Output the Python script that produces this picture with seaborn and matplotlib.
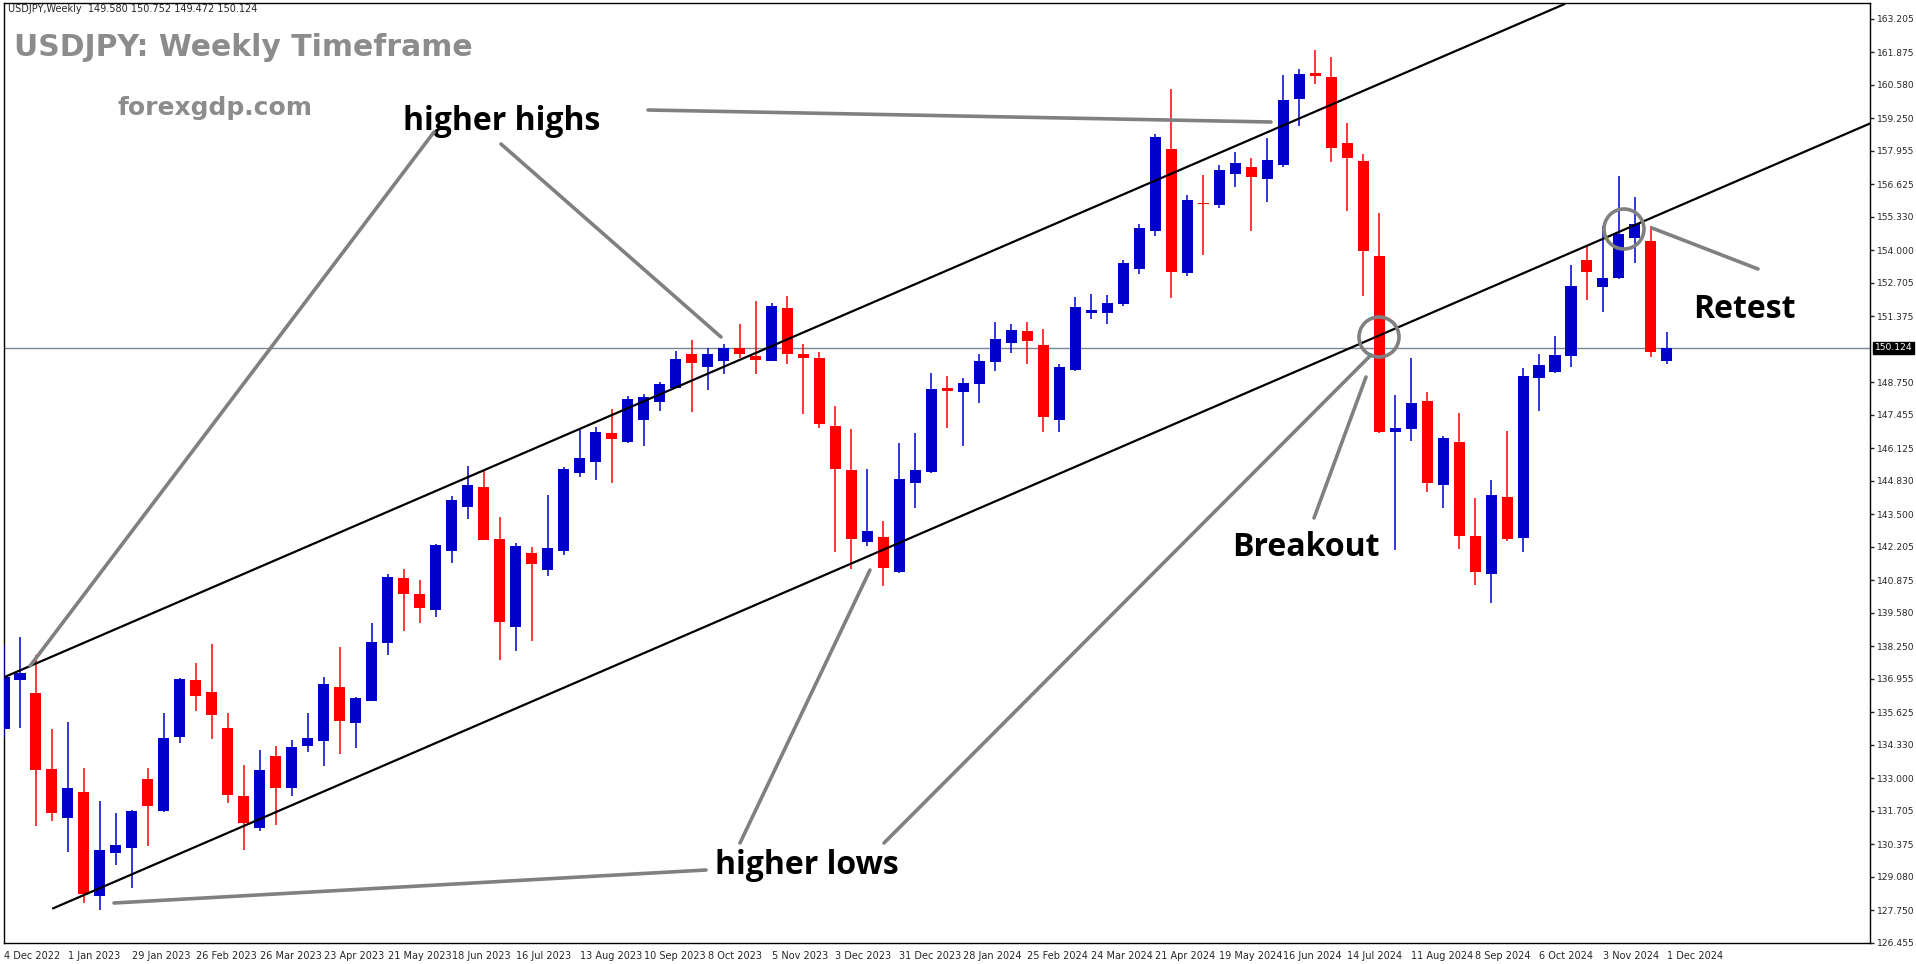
import matplotlib
matplotlib.use("Agg")
import matplotlib.pyplot as plt
import seaborn as sns
import pandas as pd
from matplotlib.lines import Line2D
from matplotlib.patches import Ellipse

# weekly USDJPY candles (4 Dec 2022 .. 1 Dec 2024)
opens = [134.98, 136.90, 136.39, 133.37, 131.44, 132.46, 128.34, 130.03, 130.23, 132.97,
         131.72, 134.66, 136.90, 136.43, 135.02, 132.31, 131.01, 133.88, 132.62, 134.27,
         134.47, 136.63, 135.21, 136.08, 138.39, 140.98, 140.35, 139.69, 142.04, 143.81,
         144.59, 142.51, 139.02, 141.96, 141.30, 142.04, 145.14, 145.58, 146.75, 146.36,
         147.26, 147.97, 148.52, 149.89, 149.35, 149.58, 150.13, 149.78, 149.58, 151.70,
         149.89, 149.70, 147.03, 145.26, 142.40, 142.59, 141.22, 144.75, 145.18, 148.52,
         148.36, 148.68, 149.54, 150.33, 150.80, 150.25, 147.26, 149.23, 151.50, 151.50,
         151.86, 153.27, 154.76, 158.02, 153.08, 155.86, 155.78, 157.04, 157.32, 156.84,
         157.39, 160.02, 161.04, 160.89, 158.26, 157.55, 153.78, 146.79, 146.91, 148.01,
         144.67, 146.36, 142.63, 141.14, 144.20, 142.55, 148.91, 149.15, 149.78, 153.62,
         152.53, 152.88, 154.49, 154.37, 149.58]
highs = [138.31, 138.63, 137.92, 134.98, 135.25, 133.41, 132.11, 131.64, 131.76, 133.41,
         135.60, 136.98, 137.57, 138.35, 135.60, 133.52, 134.11, 134.27, 134.54, 135.60,
         137.02, 138.23, 136.23, 139.18, 141.14, 141.34, 140.87, 142.32, 144.24, 145.42,
         145.22, 143.38, 142.36, 142.20, 144.28, 145.38, 146.91, 146.99, 147.70, 148.21,
         148.29, 148.76, 150.01, 150.44, 150.13, 150.29, 151.07, 151.98, 151.90, 152.17,
         150.29, 149.97, 147.81, 146.91, 145.30, 143.22, 146.32, 146.75, 149.11, 148.99,
         148.91, 149.89, 151.15, 151.07, 151.15, 150.88, 149.46, 152.13, 152.25, 152.21,
         153.62, 155.04, 158.61, 160.42, 156.18, 157.00, 157.39, 157.90, 157.67, 158.45,
         160.97, 161.20, 161.95, 161.70, 159.04, 157.83, 155.47, 148.25, 149.70, 148.36,
         146.60, 147.54, 144.16, 144.87, 146.83, 149.31, 149.86, 150.60, 153.43, 154.13,
         154.96, 156.96, 156.10, 154.96, 150.752]
lows = [134.62, 135.02, 131.09, 131.29, 130.07, 128.03, 127.75, 129.56, 128.66, 130.30,
        131.68, 134.39, 135.68, 134.58, 132.03, 130.15, 130.89, 131.13, 132.31, 134.03,
        133.48, 133.96, 134.19, 136.08, 137.92, 138.86, 139.18, 139.41, 141.57, 143.30,
        142.47, 137.69, 138.08, 138.47, 141.06, 141.89, 144.99, 144.87, 144.75, 146.32,
        146.20, 147.62, 148.52, 147.58, 148.44, 149.07, 149.70, 149.07, 149.58, 149.46,
        147.50, 146.95, 142.00, 141.34, 142.24, 140.63, 141.18, 143.77, 145.14, 146.95,
        146.20, 147.93, 149.19, 149.93, 149.46, 146.79, 146.79, 149.19, 151.27, 151.07,
        151.78, 153.04, 154.57, 152.09, 152.96, 153.82, 155.67, 156.53, 154.76, 155.90,
        157.32, 158.92, 160.61, 157.51, 155.55, 152.17, 146.75, 142.08, 146.40, 144.40,
        143.77, 142.12, 140.67, 139.96, 142.44, 142.00, 147.62, 149.11, 149.35, 152.01,
        151.54, 152.84, 153.51, 149.74, 149.472]
closes = [137.02, 137.21, 133.33, 131.64, 132.62, 128.42, 130.15, 130.34, 131.72, 131.91,
          134.62, 136.94, 136.27, 135.53, 132.35, 131.21, 133.33, 132.62, 134.23, 134.62,
          136.74, 135.29, 136.19, 138.43, 141.02, 140.35, 139.77, 142.28, 144.08, 144.67,
          142.47, 139.22, 142.24, 141.53, 142.16, 145.30, 145.73, 146.79, 146.48, 148.09,
          148.17, 148.68, 149.66, 149.50, 149.86, 150.13, 149.86, 149.62, 151.78, 149.86,
          149.70, 147.11, 145.30, 142.51, 142.83, 141.38, 144.91, 145.26, 148.48, 148.40,
          148.72, 149.58, 150.48, 150.84, 150.41, 147.38, 149.35, 151.74, 151.62, 151.90,
          153.51, 154.88, 158.49, 153.15, 155.98, 155.82, 157.20, 157.47, 156.92, 157.59,
          159.98, 161.01, 160.93, 158.06, 157.67, 153.98, 146.79, 146.95, 147.93, 144.75,
          146.52, 142.63, 141.22, 144.28, 142.51, 148.99, 149.42, 149.82, 152.56, 153.15,
          152.88, 154.65, 155.04, 149.97, 150.124]

date_labels = ["4 Dec 2022", "1 Jan 2023", "29 Jan 2023", "26 Feb 2023", "26 Mar 2023",
               "23 Apr 2023", "21 May 2023", "18 Jun 2023", "16 Jul 2023", "13 Aug 2023",
               "10 Sep 2023", "8 Oct 2023", "5 Nov 2023", "3 Dec 2023", "31 Dec 2023",
               "28 Jan 2024", "25 Feb 2024", "24 Mar 2024", "21 Apr 2024", "19 May 2024",
               "16 Jun 2024", "14 Jul 2024", "11 Aug 2024", "8 Sep 2024", "6 Oct 2024",
               "3 Nov 2024", "1 Dec 2024"]
price_ticks = [163.205, 161.875, 160.580, 159.250, 157.955, 156.625, 155.330, 154.000,
               152.705, 151.375, 148.750, 147.455, 146.125, 144.830, 143.500, 142.205,
               140.875, 139.580, 138.250, 136.955, 135.625, 134.330, 133.000, 131.705,
               130.375, 129.080, 127.750, 126.455]
last_price = 150.124

# channel lines (bar index, price)
upper_line = [(0, 137.02), (97.6, 163.79)]
lower_line = [(3.06, 127.83), (116.7, 159.04)]

df = pd.DataFrame({"open": opens, "high": highs, "low": lows, "close": closes})
df["bar"] = range(len(df))
df["up"] = df["close"] >= df["open"]

sns.set_style("white")
plt.rcParams["font.family"] = ["DejaVu Sans"]

W, H = 1916, 964
fig = plt.figure(figsize=(W / 100, H / 100), dpi=100)
ax = fig.add_axes([4 / W, 21 / H, 1866 / W, 940 / H])

BLUE, RED = "#0000CC", "#FF0000"
colors = [BLUE if u else RED for u in df["up"]]
ax.vlines(df["bar"], df["low"], df["high"], colors=colors, linewidth=1.1, zorder=3)
body_lo = df[["open", "close"]].min(axis=1)
body_h = (df["close"] - df["open"]).abs().clip(lower=0.06)
ax.bar(df["bar"], body_h, bottom=body_lo, width=0.69, color=colors, linewidth=0, zorder=4)

ax.axhline(last_price, color="#7A8596", linewidth=1, zorder=2)
for line in (upper_line, lower_line):
    (x0, y0), (x1, y1) = line
    ax.plot([x0, x1], [y0, y1], color="black", linewidth=1.6, zorder=5)

ax.set_xlim(0.05, 116.7)
ax.set_ylim(126.93, 163.83)
for s in ax.spines.values():
    s.set_color("black")
    s.set_linewidth(1)

ax.yaxis.tick_right()
ax.set_yticks(price_ticks)
ax.set_yticklabels([f"{t:.3f}" for t in price_ticks], fontsize=6.6)
ax.tick_params(axis="y", direction="out", length=3, width=1, pad=2)
ax.set_xticks(range(0, 105, 4))
ax.set_xticklabels(date_labels, fontsize=7, ha="left")
ax.tick_params(axis="x", direction="out", length=4, width=1, pad=2)
ax.text(1.0025, last_price, f"{last_price:.3f}", transform=ax.get_yaxis_transform(),
        fontsize=6.6, color="white", va="center", ha="left",
        bbox=dict(facecolor="black", edgecolor="black", pad=1.0))


def fx(x):
    return x / W


def fy(y):
    return 1 - y / H


def gline(x0, y0, x1, y1):
    fig.add_artist(Line2D([fx(x0), fx(x1)], [fy(y0), fy(y1)], color="#808080",
                          linewidth=2.6, transform=fig.transFigure, zorder=6))


gline(30, 666, 434, 132)
gline(501, 144, 721, 337)
gline(648, 110, 1271, 122)
gline(114, 903, 706, 870)
gline(740, 843, 870, 570)
gline(884, 843, 1371, 355)
gline(1314, 518, 1366, 377)
gline(1652, 228, 1758, 269)
for cx, cy in [(1379, 337), (1624, 229)]:
    fig.add_artist(Ellipse((fx(cx), fy(cy)), 40 / W, 40 / H, fill=False,
                           edgecolor="#808080", linewidth=2.6, transform=fig.transFigure))

fig.text(fx(8), fy(12), "USDJPY,Weekly  149.580 150.752 149.472 150.124", fontsize=7)
fig.text(fx(14), fy(48), "USDJPY: Weekly Timeframe", fontsize=21.5, fontweight="bold",
         color="#8C8C8C", va="center")
fig.text(fx(118), fy(108), "forexgdp.com", fontsize=18, fontweight="bold",
         color="#8C8C8C", va="center")
big = dict(fontsize=23, fontweight="bold", color="black", va="center", family="Open Sans")
fig.text(fx(403), fy(122), "higher highs", **big)
fig.text(fx(715), fy(866), "higher lows", **big)
fig.text(fx(1232), fy(547), "Breakout", **big)
fig.text(fx(1693), fy(310), "Retest", **big)

fig.savefig("out.png", dpi=100)
